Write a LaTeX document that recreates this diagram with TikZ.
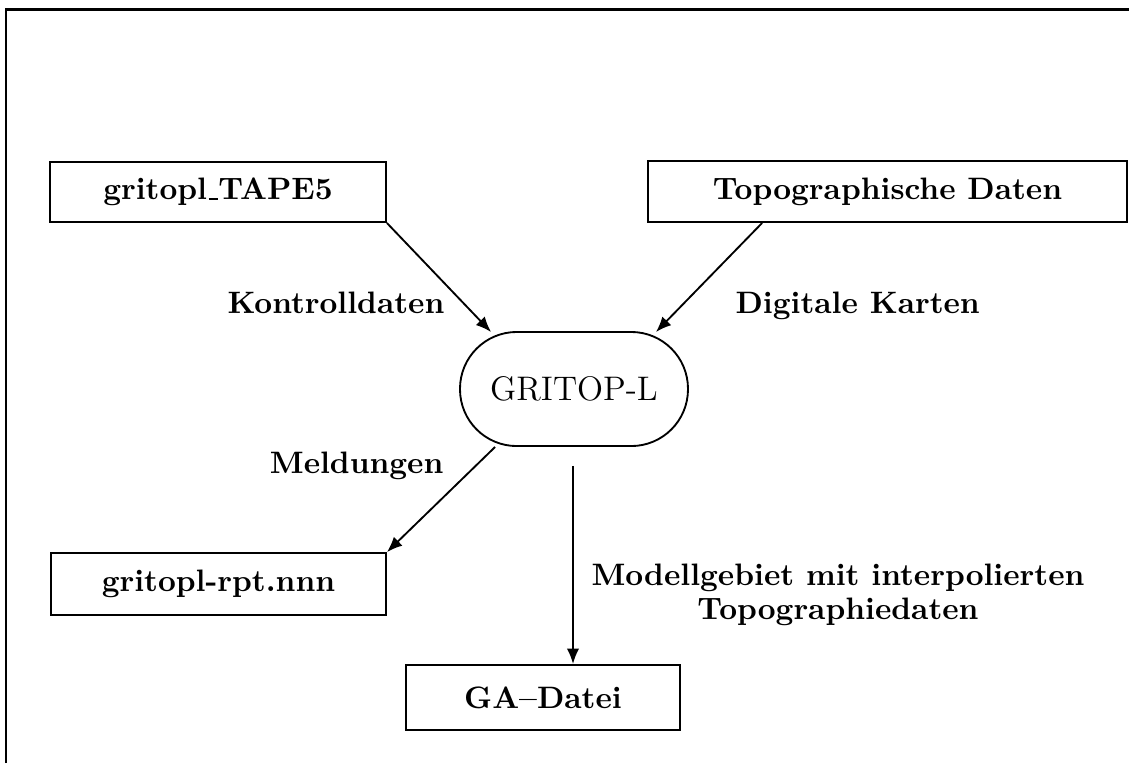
\documentclass[tikz,border=0pt]{standalone}
\usetikzlibrary{arrows.meta,calc}
\newcommand{\myus}{\leavevmode\kern.06em\vbox{\hrule width.3em height 0.45pt}}
\begin{document}
\begin{tikzpicture}[x=0.3226pt,y=-0.3226pt,
  box/.style={draw,line width=0.6pt,inner sep=0pt,font=\bfseries},
  proc/.style={draw,line width=0.6pt,inner sep=0pt,rounded corners=18.3pt,font=\fontsize{11}{13}\selectfont},
  lbl/.style={inner sep=0pt,font=\bfseries},
  arr/.style={line width=0.6pt,-{Latex[length=5pt,width=4pt]}},
  frame/.style={line width=0.85pt}]
\useasboundingbox (0,0) rectangle (1129,763);
% frame (top and left edges)
\coordinate (f1) at (6,763);
\coordinate (f2) at (6,9.5);
\coordinate (f3) at (1129,9.5);
\draw[frame] (f1) -- (f2) -- (f3);
% nodes
\node[box,minimum width=108.4pt,minimum height=19.4pt] (tape) at (218,192) {gritopl\myus TAPE5};
\node[box,minimum width=154.5pt,minimum height=19.7pt] (topo) at (887.5,191.5) {Topographische Daten};
\node[proc,minimum width=73.55pt,minimum height=36.8pt] (g) at (574,389) {GRITOP-L};
\node[box,minimum width=108.1pt,minimum height=20pt] (rpt) at (218.5,584) {gritopl-rpt.nnn};
\node[box,minimum width=88.4pt,minimum height=21pt] (ga) at (543,697.5) {GA--Datei};
% connectors
\draw[arr] (tape.south east) -- ($(g.north west)+(32,1)$);
\draw[arr] ($(topo.south west)+(115,0)$) -- ($(g.north east)+(-33,1)$);
\draw[arr] ($(g.south west)+(36,0)$) -- (rpt.north east);
\coordinate (vstart) at ($(g.south)+(-1,19)$);
\draw[arr] (vstart) -- (vstart |- ga.north);
% labels
\node[lbl,anchor=base east] (l1) at (445,313) {Kontrolldaten};
\node[lbl,anchor=base west] (l2) at (735,313) {Digitale Karten};
\node[lbl,anchor=base east] (l3) at (444,473) {Meldungen};
\node[lbl,align=center,font=\bfseries\fontsize{10}{11}\selectfont] (l4) at (838,595) {Modellgebiet mit interpolierten\\Topographiedaten};
\end{tikzpicture}
\end{document}
